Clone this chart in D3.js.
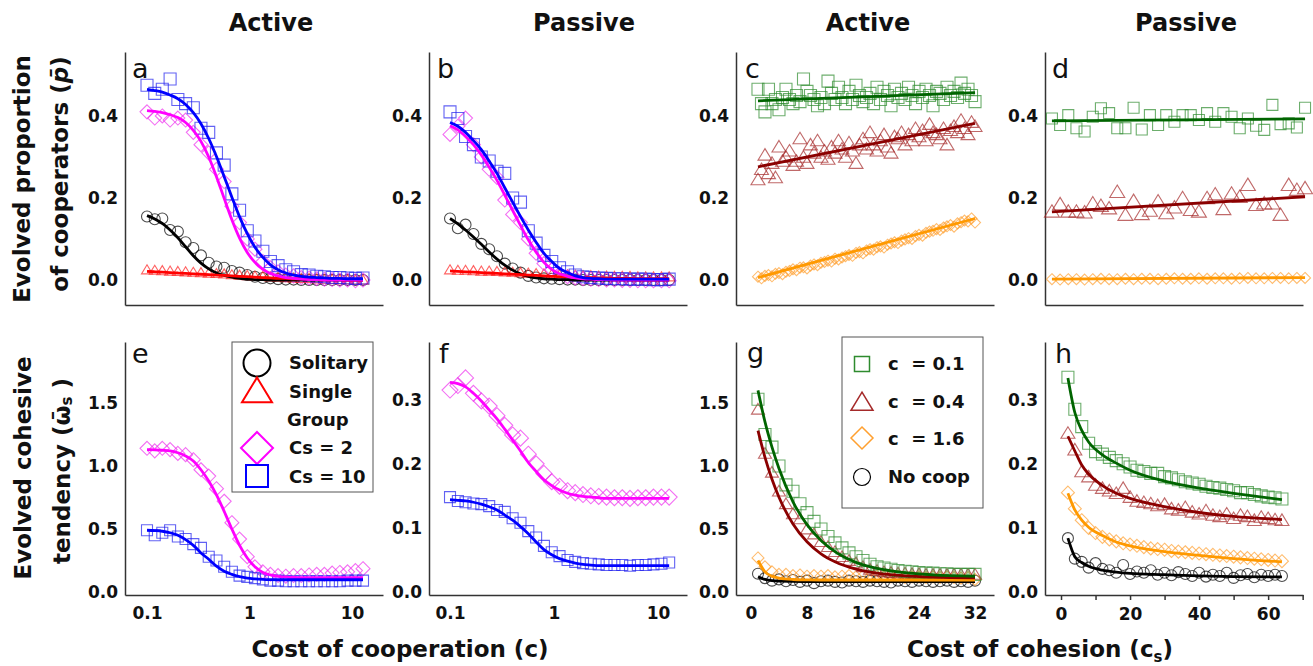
<!DOCTYPE html>
<html lang="en">
<head>
<meta charset="UTF-8">
<title>Evolved cooperation and cohesion</title>
<script src="https://d3js.org/d3.v7.min.js"></script>
<style>
  body { margin: 0; background: #fff; }
  svg { display: block; font-family: "DejaVu Sans", sans-serif; }
  .axis path, .axis line { stroke: #333; stroke-width: 1.5; }
  .axis text { font-size: 17px; font-weight: bold; fill: #111; font-family: "DejaVu Sans", sans-serif; }
  .title { font-size: 24px; font-weight: bold; fill: #111; }
  .label { font-size: 23px; font-weight: bold; fill: #111; }
  .letter { font-size: 27px; fill: #111; }
  .leg { font-size: 18px; font-weight: bold; fill: #111; white-space: pre; }
</style>
</head>
<body>
<script>
// ---- x grids ----
const xCoop = [0.1, 0.119, 0.141, 0.168, 0.2, 0.238, 0.283, 0.336, 0.4, 0.476, 0.566, 0.673, 0.8, 0.951, 1.13,
  1.35, 1.6, 1.9, 2.26, 2.69, 3.2, 3.81, 4.53, 5.38, 6.4, 7.61, 9.05, 10.8, 12.8];
const xHalf = [1, 1.5, 2, 2.5, 3, 3.5, 4, 4.5, 5, 5.5, 6, 6.5, 7, 7.5, 8, 8.5, 9, 9.5, 10, 10.5,
  11, 11.5, 12, 12.5, 13, 13.5, 14, 14.5, 15, 15.5, 16, 16.5, 17, 17.5, 18, 18.5, 19, 19.5, 20, 20.5,
  21, 21.5, 22, 22.5, 23, 23.5, 24, 24.5, 25, 25.5, 26, 26.5, 27, 27.5, 28, 28.5, 29, 29.5, 30, 30.5,
  31, 31.5, 32];
const xInt = [1, 2, 3, 4, 5, 6, 7, 8, 9, 10, 11, 12, 13, 14, 15, 16, 17, 18, 19, 20,
  21, 22, 23, 24, 25, 26, 27, 28, 29, 30, 31, 32];
const xEven = [2, 4, 6, 8, 10, 12, 14, 16, 18, 20, 22, 24, 26, 28, 30, 32,
  34, 36, 38, 40, 42, 44, 46, 48, 50, 52, 54, 56, 58, 60, 62, 64];

// ---- panel a (active, proportion of cooperators) ----
const aSolitary = [0.155, 0.148, 0.15, 0.122, 0.118, 0.092, 0.078, 0.06, 0.042, 0.033, 0.03, 0.022, 0.018, 0.012, 0.008,
  0.005, 0.004, 0.002, 0.001, 0.001, 0, 0, 0, 0, 0, 0, 0, 0, 0];
const aSolitaryFit = [0.157, 0.149, 0.138, 0.122, 0.103, 0.081, 0.059, 0.041, 0.027, 0.017, 0.011, 0.007, 0.004, 0.002, 0.001,
  0.001, 0, 0, 0, 0, 0, 0, 0, 0, 0, 0, 0, 0, 0];
const aSingle = [0.025, 0.024, 0.023, 0.022, 0.021, 0.02, 0.019, 0.018, 0.017, 0.016, 0.015, 0.013, 0.012, 0.011, 0.01,
  0.009, 0.008, 0.007, 0.006, 0.005, 0.004, 0.004, 0.003, 0.002, 0.002, 0.001, 0.001, 0, 0];
const aSingleFit = [0.021, 0.02, 0.019, 0.018, 0.017, 0.016, 0.015, 0.014, 0.013, 0.012, 0.011, 0.01, 0.009, 0.008, 0.007,
  0.006, 0.005, 0.004, 0.004, 0.003, 0.003, 0.002, 0.002, 0.001, 0.001, 0.001, 0, 0, 0];
const aCs2 = [0.41, 0.395, 0.4, 0.39, 0.395, 0.39, 0.36, 0.33, 0.31, 0.27, 0.24, 0.18, 0.14, 0.1, 0.075,
  0.045, 0.03, 0.02, 0.012, 0.01, 0.006, 0.005, 0.003, 0.002, 0.001, 0, 0, -0.002, 0];
const aCs2Fit = [0.413, 0.411, 0.408, 0.403, 0.396, 0.384, 0.365, 0.338, 0.3, 0.252, 0.199, 0.147, 0.102, 0.067, 0.043,
  0.026, 0.016, 0.01, 0.006, 0.004, 0.002, 0.001, 0.001, 0, 0, 0, 0, 0, 0];
const aCs10 = [0.475, 0.455, 0.465, 0.49, 0.44, 0.43, 0.42, 0.37, 0.36, 0.31, 0.28, 0.21, 0.17, 0.12, 0.095,
  0.07, 0.045, 0.035, 0.025, 0.02, 0.013, 0.012, 0.009, 0.008, 0.006, 0.006, 0.005, 0.004, 0.005];
const aCs10Fit = [0.465, 0.462, 0.458, 0.451, 0.442, 0.428, 0.408, 0.381, 0.345, 0.301, 0.252, 0.202, 0.154, 0.113, 0.08,
  0.055, 0.037, 0.025, 0.017, 0.012, 0.009, 0.007, 0.006, 0.005, 0.004, 0.004, 0.003, 0.003, 0.003];

// ---- panel b (passive, proportion of cooperators) ----
const bSolitary = [0.15, 0.126, 0.135, 0.112, 0.088, 0.075, 0.058, 0.04, 0.028, 0.018, 0.01, 0.006, 0.004, 0.003, 0.002,
  0.001, 0.001, 0, 0, 0, 0, 0, 0, 0, 0, 0, 0, 0, 0];
const bSolitaryFit = [0.15, 0.137, 0.122, 0.105, 0.087, 0.068, 0.051, 0.036, 0.024, 0.015, 0.009, 0.005, 0.003, 0.002, 0.001,
  0.001, 0, 0, 0, 0, 0, 0, 0, 0, 0, 0, 0, 0, 0];
const bSingle = [0.025, 0.024, 0.024, 0.023, 0.022, 0.022, 0.021, 0.02, 0.019, 0.018, 0.017, 0.016, 0.015, 0.014, 0.013,
  0.013, 0.012, 0.011, 0.011, 0.01, 0.01, 0.009, 0.009, 0.009, 0.008, 0.008, 0.008, 0.008, 0.008];
const bSingleFit = [0.022, 0.021, 0.02, 0.019, 0.018, 0.017, 0.016, 0.015, 0.014, 0.013, 0.012, 0.011, 0.01, 0.009, 0.008,
  0.008, 0.007, 0.006, 0.006, 0.005, 0.005, 0.004, 0.004, 0.004, 0.003, 0.003, 0.003, 0.003, 0.003];
const bCs2 = [0.355, 0.375, 0.395, 0.33, 0.3, 0.27, 0.25, 0.195, 0.16, 0.14, 0.1, 0.065, 0.04, 0.025, 0.015,
  0.008, 0.005, 0.003, 0.002, 0.001, 0, 0, -0.001, -0.001, -0.002, -0.002, -0.002, -0.002, -0.002];
const bCs2Fit = [0.376, 0.366, 0.35, 0.33, 0.305, 0.275, 0.243, 0.207, 0.17, 0.133, 0.098, 0.068, 0.043, 0.026, 0.015,
  0.009, 0.005, 0.003, 0.002, 0.001, 0.001, 0, 0, 0, 0, 0, 0, 0, 0];
const bCs10 = [0.41, 0.394, 0.35, 0.33, 0.3, 0.29, 0.265, 0.26, 0.2, 0.19, 0.12, 0.09, 0.06, 0.045, 0.03,
  0.02, 0.012, 0.008, 0.006, 0.005, 0.004, 0.003, 0.003, 0.002, 0.002, 0.002, 0.001, 0.001, 0.002];
const bCs10Fit = [0.384, 0.375, 0.36, 0.34, 0.318, 0.29, 0.26, 0.225, 0.19, 0.155, 0.122, 0.092, 0.065, 0.045, 0.028,
  0.018, 0.01, 0.006, 0.004, 0.003, 0.002, 0.002, 0.002, 0.002, 0.002, 0.002, 0.002, 0.002, 0.002];

// ---- panel c (active, vs cost of cohesion) ----
const cC01 = [0.465, 0.43, 0.41, 0.465, 0.43, 0.44, 0.415, 0.445, 0.465, 0.44,
  0.43, 0.45, 0.435, 0.49, 0.46, 0.45, 0.44, 0.425, 0.445, 0.43,
  0.485, 0.455, 0.44, 0.47, 0.445, 0.43, 0.46, 0.44, 0.475, 0.45,
  0.435, 0.445, 0.455, 0.43, 0.47, 0.44, 0.46, 0.45, 0.425, 0.465,
  0.445, 0.455, 0.44, 0.47, 0.45, 0.43, 0.46, 0.445, 0.465, 0.45,
  0.425, 0.46, 0.455, 0.44, 0.47, 0.45, 0.46, 0.445, 0.48, 0.455,
  0.465, 0.45, 0.435];
const cC04 = [0.245, 0.27, 0.305, 0.26, 0.285, 0.25, 0.325, 0.29, 0.3, 0.315,
  0.28, 0.29, 0.345, 0.3, 0.285, 0.33, 0.31, 0.34, 0.3, 0.315,
  0.295, 0.325, 0.31, 0.34, 0.32, 0.3, 0.335, 0.315, 0.285, 0.33,
  0.345, 0.32, 0.36, 0.33, 0.315, 0.34, 0.355, 0.325, 0.31, 0.35,
  0.345, 0.36, 0.33, 0.355, 0.34, 0.37, 0.35, 0.365, 0.34, 0.38,
  0.36, 0.355, 0.345, 0.37, 0.33, 0.365, 0.375, 0.36, 0.39, 0.37,
  0.355, 0.385, 0.375];
const cC16 = [0.008, 0.004, 0.01, 0.012, 0.009, 0.015, 0.017, 0.014, 0.02, 0.022,
  0.026, 0.024, 0.03, 0.031, 0.028, 0.035, 0.038, 0.036, 0.042, 0.044,
  0.047, 0.045, 0.052, 0.05, 0.055, 0.058, 0.061, 0.059, 0.066, 0.068,
  0.065, 0.072, 0.075, 0.074, 0.08, 0.082, 0.079, 0.086, 0.089, 0.092,
  0.09, 0.096, 0.099, 0.102, 0.1, 0.107, 0.11, 0.108, 0.115, 0.118,
  0.12, 0.124, 0.122, 0.128, 0.131, 0.134, 0.13, 0.138, 0.141, 0.145,
  0.143, 0.15, 0.14];
const cFitX = [1, 32];
const cC01Fit = [0.437, 0.457];
const cC04Fit = [0.276, 0.382];
const cC16Fit = [0.006, 0.15];

// ---- panel d (passive, vs cost of cohesion) ----
const dC01 = [0.394, 0.378, 0.402, 0.37, 0.362, 0.398, 0.419, 0.407, 0.37, 0.37, 0.42, 0.367, 0.402, 0.378, 0.402, 0.386,
  0.402, 0.402, 0.39, 0.407, 0.386, 0.407, 0.398, 0.37, 0.394, 0.376, 0.366, 0.427, 0.38, 0.382, 0.372, 0.42];
const dC04 = [0.167, 0.185, 0.167, 0.167, 0.165, 0.187, 0.181, 0.175, 0.215, 0.159, 0.193, 0.161, 0.169, 0.192, 0.163, 0.177,
  0.2, 0.171, 0.167, 0.2, 0.209, 0.173, 0.211, 0.203, 0.232, 0.183, 0.187, 0.187, 0.159, 0.232, 0.22, 0.224];
const dC16 = [0.002, 0.001, 0.002, 0.002, 0.001, 0.002, 0.003, 0.002, 0.002, 0.003, 0.002, 0.003, 0.003, 0.002, 0.003, 0.004,
  0.003, 0.003, 0.004, 0.003, 0.004, 0.004, 0.003, 0.004, 0.005, 0.004, 0.004, 0.005, 0.005, 0.004, 0.005, 0.005];
const dFitX = [2, 64];
const dC01Fit = [0.388, 0.393];
const dC04Fit = [0.166, 0.203];
const dC16Fit = [0.002, 0.006];

// ---- panel e (active, cohesive tendency) ----
const eCs2 = [1.14, 1.12, 1.14, 1.13, 1.1, 1.09, 1.05, 0.97, 0.92, 0.82, 0.72, 0.55, 0.42, 0.28, 0.2,
  0.16, 0.14, 0.13, 0.125, 0.13, 0.13, 0.135, 0.14, 0.14, 0.15, 0.155, 0.16, 0.17, 0.185];
const eCs2Fit = [1.13, 1.128, 1.125, 1.12, 1.105, 1.08, 1.04, 0.97, 0.88, 0.77, 0.64, 0.5, 0.37, 0.27, 0.2,
  0.155, 0.135, 0.124, 0.118, 0.115, 0.114, 0.113, 0.113, 0.113, 0.113, 0.113, 0.113, 0.113, 0.113];
const eCs10 = [0.49, 0.45, 0.47, 0.49, 0.44, 0.42, 0.38, 0.35, 0.28, 0.25, 0.2, 0.16, 0.13, 0.12, 0.11,
  0.1, 0.09, 0.09, 0.085, 0.085, 0.085, 0.085, 0.085, 0.085, 0.085, 0.085, 0.09, 0.09, 0.09];
const eCs10Fit = [0.49, 0.487, 0.482, 0.47, 0.45, 0.415, 0.37, 0.31, 0.26, 0.205, 0.165, 0.14, 0.122, 0.11, 0.104,
  0.1, 0.098, 0.097, 0.097, 0.097, 0.097, 0.097, 0.097, 0.097, 0.097, 0.097, 0.097, 0.097, 0.097];

// ---- panel f (passive, cohesive tendency) ----
const fCs2 = [0.315, 0.322, 0.334, 0.31, 0.298, 0.29, 0.275, 0.26, 0.245, 0.24, 0.215, 0.2, 0.185, 0.172, 0.165,
  0.158, 0.155, 0.152, 0.15, 0.149, 0.148, 0.147, 0.147, 0.146, 0.147, 0.147, 0.148, 0.148, 0.148];
const fCs2Fit = [0.327, 0.325, 0.32, 0.31, 0.298, 0.284, 0.27, 0.254, 0.237, 0.22, 0.202, 0.188, 0.175, 0.166, 0.159,
  0.154, 0.151, 0.149, 0.148, 0.147, 0.146, 0.146, 0.146, 0.146, 0.146, 0.146, 0.146, 0.146, 0.146];
const fCs10 = [0.148, 0.142, 0.14, 0.138, 0.137, 0.134, 0.128, 0.125, 0.115, 0.108, 0.095, 0.085, 0.072, 0.062, 0.056,
  0.05, 0.047, 0.045, 0.044, 0.043, 0.042, 0.042, 0.042, 0.041, 0.042, 0.042, 0.043, 0.044, 0.046];
const fCs10Fit = [0.144, 0.143, 0.142, 0.14, 0.137, 0.133, 0.128, 0.12, 0.112, 0.102, 0.091, 0.078, 0.066, 0.058, 0.052,
  0.048, 0.045, 0.043, 0.042, 0.041, 0.041, 0.041, 0.041, 0.041, 0.041, 0.041, 0.041, 0.041, 0.041];

// ---- panel g (active, cohesive tendency vs cost of cohesion) ----
const gC01 = [1.53, 1.25, 1.15, 1.0, 0.85, 0.8, 0.7, 0.63, 0.56, 0.5, 0.44, 0.39, 0.35, 0.31, 0.28, 0.25,
  0.22, 0.2, 0.19, 0.18, 0.17, 0.165, 0.16, 0.155, 0.15, 0.15, 0.145, 0.145, 0.14, 0.14, 0.14, 0.14];
const gC04 = [1.45, 1.1, 0.95, 0.8, 0.7, 0.62, 0.58, 0.5, 0.46, 0.4, 0.36, 0.32, 0.28, 0.25, 0.23, 0.2,
  0.18, 0.17, 0.16, 0.155, 0.15, 0.15, 0.145, 0.145, 0.14, 0.14, 0.14, 0.14, 0.14, 0.14, 0.14, 0.14];
const gC16 = [0.27, 0.2, 0.16, 0.14, 0.14, 0.13, 0.135, 0.125, 0.13, 0.125, 0.13, 0.12, 0.125, 0.13, 0.12, 0.125,
  0.12, 0.125, 0.12, 0.12, 0.125, 0.115, 0.12, 0.12, 0.115, 0.12, 0.115, 0.12, 0.115, 0.11, 0.115, 0.1];
const gNoCoop = [0.145, 0.11, 0.09, 0.1, 0.085, 0.095, 0.08, 0.09, 0.07, 0.085, 0.09, 0.08, 0.075, 0.09, 0.085, 0.08,
  0.09, 0.085, 0.08, 0.075, 0.09, 0.085, 0.08, 0.09, 0.085, 0.08, 0.085, 0.09, 0.08, 0.085, 0.08, 0.09];
const gFitX = [1, 2, 3, 4, 6, 8, 10, 12, 15, 18, 22, 26, 32];
const gC01Fit = [1.6, 1.35, 1.15, 0.98, 0.716, 0.534, 0.409, 0.32, 0.235, 0.187, 0.153, 0.136, 0.125];
const gC04Fit = [1.28, 1.068, 0.894, 0.752, 0.54, 0.399, 0.303, 0.24, 0.181, 0.149, 0.128, 0.118, 0.112];
const gC16Fit = [0.25, 0.16, 0.125, 0.11, 0.099, 0.096, 0.095, 0.095, 0.095, 0.095, 0.095, 0.095, 0.095];
const gNoCoopFit = [0.12, 0.1, 0.09, 0.086, 0.084, 0.083, 0.083, 0.082, 0.082, 0.082, 0.082, 0.082, 0.082];

// ---- panel h (passive, cohesive tendency vs cost of cohesion) ----
const hC01 = [0.335, 0.285, 0.258, 0.232, 0.219, 0.215, 0.21, 0.205, 0.2, 0.195, 0.19, 0.188, 0.185, 0.185, 0.18, 0.178,
  0.175, 0.172, 0.17, 0.168, 0.165, 0.163, 0.162, 0.16, 0.158, 0.155, 0.155, 0.152, 0.15, 0.148, 0.147, 0.145];
const hC04 = [0.248, 0.222, 0.188, 0.18, 0.167, 0.162, 0.158, 0.154, 0.162, 0.148, 0.142, 0.14, 0.138, 0.135, 0.137, 0.13,
  0.128, 0.132, 0.125, 0.122, 0.127, 0.12, 0.118, 0.122, 0.115, 0.12, 0.118, 0.112, 0.117, 0.115, 0.113, 0.112];
const hC16 = [0.155, 0.13, 0.112, 0.1, 0.092, 0.086, 0.082, 0.079, 0.076, 0.074, 0.072, 0.07, 0.068, 0.067, 0.066, 0.064,
  0.063, 0.062, 0.061, 0.06, 0.059, 0.058, 0.057, 0.056, 0.055, 0.054, 0.053, 0.052, 0.051, 0.05, 0.049, 0.048];
const hNoCoop = [0.084, 0.052, 0.047, 0.038, 0.045, 0.036, 0.034, 0.03, 0.042, 0.028, 0.032, 0.03, 0.034, 0.027, 0.03, 0.026,
  0.031, 0.028, 0.025, 0.03, 0.024, 0.027, 0.025, 0.03, 0.022, 0.026, 0.028, 0.023, 0.027, 0.025, 0.027, 0.025];
const hFitX = [2, 4, 6, 8, 12, 16, 20, 30, 40, 50, 64];
const hC01Fit = [0.334, 0.28, 0.252, 0.234, 0.214, 0.201, 0.19, 0.173, 0.162, 0.154, 0.144];
const hC04Fit = [0.243, 0.22, 0.198, 0.184, 0.166, 0.154, 0.146, 0.133, 0.124, 0.118, 0.113];
const hC16Fit = [0.154, 0.128, 0.112, 0.101, 0.088, 0.078, 0.072, 0.063, 0.057, 0.052, 0.047];
const hNoCoopFit = [0.084, 0.055, 0.046, 0.04, 0.034, 0.031, 0.029, 0.027, 0.025, 0.024, 0.0235];

// ---- tick labels ----
const yTicksP = [0, 0.2, 0.4];
const yTicksBig = [0, 0.5, 1.0, 1.5];
const yTicksSmall = [0, 0.1, 0.2, 0.3];
const xTicksCoop = [0.1, 1, 10];
const xTicksG = [0, 8, 16, 24, 32];
const xTicksH = [0, 10, 20, 30, 40, 50, 60, 70];

// ---- styles ----
const C = {
  solitary: { mark: '#000', line: '#000' },
  single: { mark: '#ff2020', line: '#ff0000' },
  cs2: { mark: '#ee30ee', line: '#ff00ff' },
  cs10: { mark: '#2020ee', line: '#0000ff' },
  c01: { mark: '#2e8b2e', line: '#006400' },
  c04: { mark: '#a52a2a', line: '#8b0000' },
  c16: { mark: '#ffa030', line: '#ff9900' },
  nocoop: { mark: '#000', line: '#000' }
};

const W = 1313, H = 666;
const svg = d3.select('body').append('svg').attr('width', W).attr('height', H);

function markerPath(shape, s) {
  const h = s / 2;
  if (shape === 'square') return `M${-h},${-h}H${h}V${h}H${-h}Z`;
  if (shape === 'diamond') return `M0,${-h}L${h},0L0,${h}L${-h},0Z`;
  if (shape === 'triangle') return `M0,${-h * 0.9}L${h},${h * 0.75}L${-h},${h * 0.75}Z`;
  return `M${-h},0A${h},${h} 0 1 0 ${h},0A${h},${h} 0 1 0 ${-h},0Z`;
}

function drawPanel(p) {
  const g = svg.append('g');
  const x = p.x, y = p.y;

  g.append('g').attr('class', 'axis').attr('transform', `translate(${p.left},0)`)
    .call(d3.axisLeft(y).tickValues(p.yTicks).tickFormat(d3.format('.1f'))
      .tickSize(0).tickSizeOuter(0).tickPadding(7));
  g.append('g').attr('class', 'axis').attr('transform', `translate(0,${p.bottom})`)
    .call(d3.axisBottom(x).tickValues(p.xTicks || []).tickFormat(p.xFormat || (d => d))
      .tickSize(p.xTickSize || 0).tickSizeOuter(0).tickPadding(p.xTickSize ? 8 : 12));

  // markers first, fitted lines on top
  p.series.forEach(s => {
    g.append('g').selectAll('path').data(d3.zip(s.xs, s.ys)).join('path')
      .attr('d', markerPath(s.shape, s.size))
      .attr('transform', d => `translate(${x(d[0])},${y(d[1])})`)
      .attr('fill', 'none').attr('stroke', s.col.mark)
      .attr('stroke-opacity', 0.7).attr('stroke-width', 1.1);
  });
  const line = d3.line().x(d => x(d[0])).y(d => y(d[1])).curve(d3.curveMonotoneX);
  p.series.forEach(s => {
    g.append('path').datum(d3.zip(s.fx, s.fy)).attr('d', line)
      .attr('fill', 'none').attr('stroke', s.col.line).attr('stroke-width', 2.8);
  });

  g.append('text').attr('class', 'letter').attr('x', p.letterX).attr('y', p.letterY).text(p.letter);
}

// ---- panel geometry ----
const topRow = { top: 52, bottom: 305 };
const botRow = { top: 342, bottom: 595 };
const cols = [[125, 383], [429, 687], [736, 994], [1045, 1303]];

const yTop = d3.scaleLinear().domain([-0.061, 0.556]).range([topRow.bottom, topRow.top]);
const yBig = d3.scaleLinear().domain([-0.024, 1.984]).range([botRow.bottom, botRow.top]);
const ySmall = d3.scaleLinear().domain([-0.0047, 0.39]).range([botRow.bottom, botRow.top]);

const xA = d3.scaleLog().domain([0.061, 20.06]).range(cols[0]);
const xB = d3.scaleLog().domain([0.0628, 19.0]).range(cols[1]);
const xC = d3.scaleLinear().domain([-2.14, 34.71]).range(cols[2]);
const xD = d3.scaleLinear().domain([0.3, 63.5]).range(cols[3]);
const xH = d3.scaleLinear().domain([-4.64, 70.1]).range(cols[3]);

const coopSeries = (sol, solF, sin, sinF, c2, c2F, c10, c10F) => [
  { xs: xCoop, ys: sol, fx: xCoop, fy: solF, shape: 'circle', size: 11, col: C.solitary },
  { xs: xCoop, ys: sin, fx: xCoop, fy: sinF, shape: 'triangle', size: 11, col: C.single },
  { xs: xCoop, ys: c2, fx: xCoop, fy: c2F, shape: 'diamond', size: 14, col: C.cs2 },
  { xs: xCoop, ys: c10, fx: xCoop, fy: c10F, shape: 'square', size: 12, col: C.cs10 }
];

drawPanel({ x: xA, y: yTop, left: cols[0][0], bottom: topRow.bottom, yTicks: yTicksP,
  letter: 'a', letterX: 132, letterY: 78,
  series: coopSeries(aSolitary, aSolitaryFit, aSingle, aSingleFit, aCs2, aCs2Fit, aCs10, aCs10Fit) });
drawPanel({ x: xB, y: yTop, left: cols[1][0], bottom: topRow.bottom, yTicks: yTicksP,
  letter: 'b', letterX: 437, letterY: 78,
  series: coopSeries(bSolitary, bSolitaryFit, bSingle, bSingleFit, bCs2, bCs2Fit, bCs10, bCs10Fit) });
drawPanel({ x: xC, y: yTop, left: cols[2][0], bottom: topRow.bottom, yTicks: yTicksP,
  letter: 'c', letterX: 745, letterY: 78,
  series: [
    { xs: xHalf, ys: cC01, fx: cFitX, fy: cC01Fit, shape: 'square', size: 12, col: C.c01 },
    { xs: xHalf, ys: cC04, fx: cFitX, fy: cC04Fit, shape: 'triangle', size: 14, col: C.c04 },
    { xs: xHalf, ys: cC16, fx: cFitX, fy: cC16Fit, shape: 'diamond', size: 11, col: C.c16 }
  ] });
drawPanel({ x: xD, y: yTop, left: cols[3][0], bottom: topRow.bottom, yTicks: yTicksP,
  letter: 'd', letterX: 1052, letterY: 78,
  series: [
    { xs: xEven, ys: dC01, fx: dFitX, fy: dC01Fit, shape: 'square', size: 11, col: C.c01 },
    { xs: xEven, ys: dC04, fx: dFitX, fy: dC04Fit, shape: 'triangle', size: 15, col: C.c04 },
    { xs: xEven, ys: dC16, fx: dFitX, fy: dC16Fit, shape: 'diamond', size: 11, col: C.c16 }
  ] });
drawPanel({ x: xA, y: yBig, left: cols[0][0], bottom: botRow.bottom, yTicks: yTicksBig,
  xTicks: xTicksCoop, xFormat: d => String(d),
  letter: 'e', letterX: 132, letterY: 363,
  series: [
    { xs: xCoop, ys: eCs2, fx: xCoop, fy: eCs2Fit, shape: 'diamond', size: 14, col: C.cs2 },
    { xs: xCoop, ys: eCs10, fx: xCoop, fy: eCs10Fit, shape: 'square', size: 11, col: C.cs10 }
  ] });
drawPanel({ x: xB, y: ySmall, left: cols[1][0], bottom: botRow.bottom, yTicks: yTicksSmall,
  xTicks: xTicksCoop, xFormat: d => String(d),
  letter: 'f', letterX: 439, letterY: 363,
  series: [
    { xs: xCoop, ys: fCs2, fx: xCoop, fy: fCs2Fit, shape: 'diamond', size: 16, col: C.cs2 },
    { xs: xCoop, ys: fCs10, fx: xCoop, fy: fCs10Fit, shape: 'square', size: 11, col: C.cs10 }
  ] });
drawPanel({ x: xC, y: yBig, left: cols[2][0], bottom: botRow.bottom, yTicks: yTicksBig,
  xTicks: xTicksG,
  letter: 'g', letterX: 747, letterY: 362,
  series: [
    { xs: xInt, ys: gNoCoop, fx: gFitX, fy: gNoCoopFit, shape: 'circle', size: 11, col: C.nocoop },
    { xs: xInt, ys: gC16, fx: gFitX, fy: gC16Fit, shape: 'diamond', size: 12, col: C.c16 },
    { xs: xInt, ys: gC04, fx: gFitX, fy: gC04Fit, shape: 'triangle', size: 13, col: C.c04 },
    { xs: xInt, ys: gC01, fx: gFitX, fy: gC01Fit, shape: 'square', size: 12, col: C.c01 }
  ] });
drawPanel({ x: xH, y: ySmall, left: cols[3][0], bottom: botRow.bottom, yTicks: yTicksSmall,
  xTicks: xTicksH, xTickSize: 5, xFormat: d => (d % 20 === 0 && d <= 60) ? d : '',
  letter: 'h', letterX: 1055, letterY: 363,
  series: [
    { xs: xEven, ys: hNoCoop, fx: hFitX, fy: hNoCoopFit, shape: 'circle', size: 11, col: C.nocoop },
    { xs: xEven, ys: hC16, fx: hFitX, fy: hC16Fit, shape: 'diamond', size: 13, col: C.c16 },
    { xs: xEven, ys: hC04, fx: hFitX, fy: hC04Fit, shape: 'triangle', size: 14, col: C.c04 },
    { xs: xEven, ys: hC01, fx: hFitX, fy: hC01Fit, shape: 'square', size: 12, col: C.c01 }
  ] });

// ---- column titles ----
const titles = [['Active', 271], ['Passive', 584], ['Active', 868], ['Passive', 1186]];
svg.selectAll('.title').data(titles).join('text').attr('class', 'title')
  .attr('x', d => d[0] === '' ? 0 : d[1]).attr('y', 31).attr('text-anchor', 'middle').text(d => d[0]);

// ---- y axis titles ----
function vLabel(cx, cy) {
  return svg.append('text').attr('class', 'label').attr('text-anchor', 'middle')
    .attr('dominant-baseline', 'central').attr('transform', `translate(${cx},${cy}) rotate(-90)`);
}
vLabel(22, 179).text('Evolved proportion');
const l2 = vLabel(60, 174);
l2.append('tspan').text('of cooperators (');
l2.append('tspan').attr('font-style', 'italic').text('p\u0304');
l2.append('tspan').text(')');
vLabel(23, 468).text('Evolved cohesive');
const l4 = vLabel(62, 471);
l4.append('tspan').text('tendency (\u03c9\u0304');
l4.append('tspan').attr('font-size', '15px').attr('baseline-shift', '-30%').text('s');
l4.append('tspan').text(' )');

// ---- x axis titles ----
svg.append('text').attr('class', 'label').attr('x', 400).attr('y', 657).attr('text-anchor', 'middle')
  .text('Cost of cooperation (c)');
const xt = svg.append('text').attr('class', 'label').attr('x', 1040).attr('y', 657).attr('text-anchor', 'middle');
xt.append('tspan').text('Cost of cohesion (c');
xt.append('tspan').attr('font-size', '15px').attr('baseline-shift', '-30%').text('s');
xt.append('tspan').text(')');

// ---- legends ----
function legend(box, entries) {
  const g = svg.append('g');
  g.append('rect').attr('x', box[0]).attr('y', box[1]).attr('width', box[2] - box[0]).attr('height', box[3] - box[1])
    .attr('fill', '#fff').attr('stroke', '#555').attr('stroke-width', 1);
  entries.forEach(e => {
    if (e.shape) {
      g.append('path').attr('d', markerPath(e.shape, e.size))
        .attr('transform', `translate(${e.mx},${e.y})`)
        .attr('fill', 'none').attr('stroke', e.col).attr('stroke-width', e.sw);
    }
    g.append('text').attr('class', 'leg').attr('x', e.tx).attr('y', e.ty)
      .attr('dominant-baseline', 'central').text(e.text);
  });
}
legend([232, 342, 373, 492], [
  { shape: 'circle', size: 27, col: '#000', sw: 2, mx: 257, y: 363, tx: 289, ty: 362, text: 'Solitary' },
  { shape: 'triangle', size: 30, col: '#ff0000', sw: 2, mx: 257, y: 391, tx: 289, ty: 391, text: 'Single' },
  { tx: 287, ty: 419, text: 'Group' },
  { shape: 'diamond', size: 32, col: '#ff00ff', sw: 2, mx: 257, y: 448, tx: 289, ty: 447, text: 'Cs = 2' },
  { shape: 'square', size: 22, col: '#0000ff', sw: 2, mx: 257, y: 476, tx: 289, ty: 476, text: 'Cs = 10' }
]);
legend([842, 337, 983, 508], [
  { shape: 'square', size: 15, col: '#2e8b2e', sw: 1.5, mx: 862, y: 364, tx: 888, ty: 363, text: 'c  = 0.1' },
  { shape: 'triangle', size: 22, col: '#a52a2a', sw: 1.5, mx: 862, y: 402, tx: 888, ty: 401, text: 'c  = 0.4' },
  { shape: 'diamond', size: 22, col: '#ffa030', sw: 1.5, mx: 862, y: 438, tx: 888, ty: 438, text: 'c  = 1.6' },
  { shape: 'circle', size: 17, col: '#000', sw: 1.2, mx: 862, y: 477, tx: 888, ty: 476, text: 'No coop' }
]);
</script>
</body>
</html>
